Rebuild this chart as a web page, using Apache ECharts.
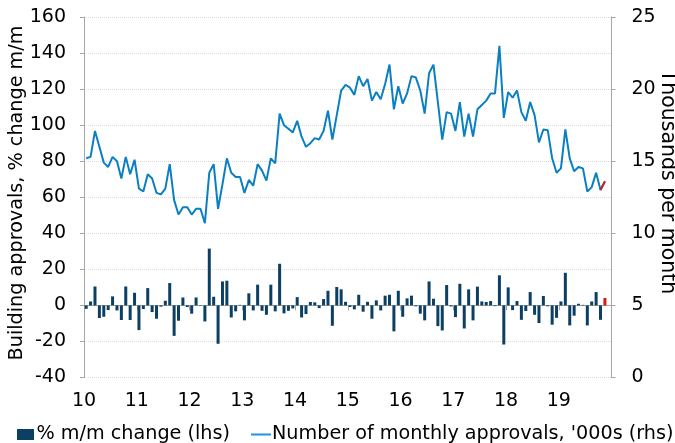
<!DOCTYPE html>
<html>
<head>
<meta charset="utf-8">
<script src="https://cdn.jsdelivr.net/npm/echarts@6/dist/echarts.min.js"></script>
<style>html,body{margin:0;padding:0;background:#fff}#c{width:675px;height:443px}</style>
</head>
<body>
<div id="c"></div>
<script>
// Tick labels on the x axis (years 2010-2019)
const yearLabels = ['10','11','12','13','14','15','16','17','18','19'];
// Monthly categories Jan-2010 .. Nov-2019
const months = [];
for (let y = 2010; y <= 2019; y++) for (let m = 1; m <= 12; m++) { if (months.length < 119) months.push(y + '-' + (m < 10 ? '0' : '') + m); }

// % m/m change (lhs)
const pctChange = [
 -1.9, 2.2, 10.5, -7.0, -6.3, -2.6, 5.0, -2.8, -8.1, 10.5, -8.1, 7.0,
 -13.7, -2.0, 9.6, -3.7, -7.4, -0.7, 2.6, 12.4, -16.9, -8.5, 4.4, -0.9,
 -4.6, 4.4, 0.2, -8.9, 31.5, 4.8, -21.3, 13.3, 13.7, -6.7, -3.3, 0.3,
 -8.3, 6.7, -2.8, 11.5, -3.0, -5.2, 11.5, -3.3, 23.1, -4.4, -3.0, -1.7,
 4.6, -6.7, -4.8, 1.9, 1.7, -1.5, 3.5, 8.1, -11.3, 10.2, 8.9, 2.0,
 -0.9, -2.2, 5.9, -3.5, 2.0, -7.4, 2.8, -2.8, 5.4, 5.9, -14.4, 8.1,
 -6.3, 3.9, 5.4, -0.5, -4.6, -8.3, 13.3, 3.7, -11.5, -13.9, 11.3, -0.6,
 -6.5, 12.0, -12.8, 8.9, -8.3, 10.4, 2.2, 1.9, 2.4, -0.4, 16.7, -21.7,
 10.0, -2.6, 2.4, -8.0, -3.1, 7.4, -5.2, -9.8, 5.2, -0.5, -10.7, -6.9,
 2.2, 18.1, -11.1, -5.7, 0.9, 0.3, -11.1, 2.2, 7.4, -8.0, 4.1
];
// Number of monthly approvals, '000s (rhs)
const approvals = [
 15.2, 15.3, 17.1, 16.0, 14.9, 14.6, 15.3, 15.0, 13.8, 15.3, 14.1, 15.1,
 13.1, 12.9, 14.1, 13.8, 12.8, 12.7, 13.1, 14.8, 12.3, 11.3, 11.8, 11.8,
 11.3, 11.7, 11.7, 10.7, 14.2, 14.8, 11.7, 13.4, 15.2, 14.2, 13.9, 13.9,
 12.8, 13.7, 13.3, 14.8, 14.35, 13.65, 15.2, 14.85, 18.3, 17.5, 17.25, 17.0,
 17.8, 16.7, 16.0, 16.25, 16.6, 16.5, 17.1, 18.5, 16.5, 18.2, 19.9, 20.3,
 20.1, 19.6, 20.9, 20.2, 20.7, 19.2, 19.8, 19.3, 20.35, 21.7, 18.6, 20.2,
 19.0, 19.7, 20.9, 20.8, 19.9, 18.3, 21.1, 21.7, 19.1, 16.5, 18.4, 18.3,
 17.1, 19.1, 16.7, 18.3, 16.7, 18.6, 18.9, 19.2, 19.7, 19.7, 23.0, 18.0,
 19.8, 19.4, 19.9, 18.4, 17.8, 19.1, 18.2, 16.3, 17.2, 17.15, 15.2, 14.2,
 14.5, 17.2, 15.2, 14.3, 14.6, 14.5, 12.9, 13.2, 14.2, 13.0, 13.6
];

const NAVY = '#0b3f63', BLUE = '#0a7fc2', RED = '#d0210e';
const FONT = 'DejaVu Sans';
const FS = 19;
const S1 = '% m/m change (lhs)';
const S2 = "Number of monthly approvals, '000s (rhs)";
// month position: mid-month on a month-index value axis
const pos = i => i + 0.5;
const last = months.length - 1;

const barData = pctChange.map((v, i) => ({ value: [pos(i), v], itemStyle: { color: i === last ? RED : NAVY } }));
const lineData = approvals.map((v, i) => [pos(i), v]);
const latestData = [last - 1, last].map(i => [pos(i), approvals[i]]);

const legendText = { fontFamily: FONT, fontSize: 19.2, color: '#000', padding: [0, 0, 0, -4] };

const chart = echarts.init(document.getElementById('c'), null, { renderer: 'canvas' });
chart.setOption({
  animation: false,
  backgroundColor: '#fff',
  textStyle: { fontFamily: FONT },
  grid: { left: 84, top: 17, width: 527.5, height: 360.5, containLabel: false, outerBoundsMode: 'none' },
  legend: [
    { left: 12, top: 420, width: 240, itemWidth: 20, itemHeight: 11, textStyle: legendText,
      data: [{ name: S1, icon: 'path://M0,0 L17,0 L17,11 L0,11 Z', itemStyle: { color: NAVY } }] },
    { left: 246, top: 420, width: 440, itemWidth: 20, itemHeight: 11, textStyle: legendText,
      data: [{ name: S2, icon: 'path://M0,0 L10,0 L10,1 L0,1 Z', itemStyle: { color: '#1f95dc' } }] }
  ],
  graphic: [
    { type: 'text', x: 17, y: 193, rotation: Math.PI / 2,
      style: { text: 'Building approvals, % change m/m', font: '19.2px "DejaVu Sans"', fill: '#000', align: 'center', verticalAlign: 'middle' } },
    { type: 'text', x: 667, y: 182, rotation: -Math.PI / 2,
      style: { text: 'Thousands per month', font: '20.5px "DejaVu Sans"', fill: '#000', align: 'center', verticalAlign: 'middle' } }
  ],
  xAxis: {
    type: 'value', min: 0, max: 120, interval: 12,
    axisLine: { lineStyle: { color: '#a6a6a6', width: 1 } },
    axisTick: { show: true, length: 5, lineStyle: { color: '#a6a6a6' } },
    splitLine: { show: false },
    axisLabel: {
      fontFamily: FONT, fontSize: FS, color: '#000', margin: 14,
      formatter: v => { const k = Math.round(v / 12); return k < yearLabels.length ? yearLabels[k] : ''; }
    }
  },
  yAxis: [
    {
      type: 'value', min: -40, max: 160, interval: 20, position: 'left',
      axisLine: { show: true, lineStyle: { color: '#a6a6a6' } },
      axisTick: { show: true, length: 4, lineStyle: { color: '#a6a6a6' } },
      axisLabel: { fontFamily: FONT, fontSize: FS, color: '#000', margin: 18 },
      splitLine: { show: true, lineStyle: { color: '#d9d9d9', type: 'dotted', width: 1 } }
    },
    {
      type: 'value', min: 0, max: 25, interval: 5, position: 'right',
      axisLine: { show: true, lineStyle: { color: '#a6a6a6' } },
      axisTick: { show: true, length: 4, lineStyle: { color: '#a6a6a6' } },
      axisLabel: { fontFamily: FONT, fontSize: FS, color: '#000', margin: 20 },
      splitLine: { show: false }
    }
  ],
  series: [
    {
      name: S1, type: 'bar', yAxisIndex: 0, barWidth: 3,
      data: barData, z: 2
    },
    {
      name: S2, type: 'line', yAxisIndex: 1,
      data: lineData, showSymbol: false, symbol: 'none',
      lineStyle: { color: BLUE, width: 2 }, itemStyle: { color: BLUE }, z: 3
    },
    {
      name: 'latest', type: 'line', yAxisIndex: 1, data: latestData, symbol: 'none',
      lineStyle: { color: RED, width: 2 }, z: 4
    }
  ]
});
</script>
</body>
</html>
